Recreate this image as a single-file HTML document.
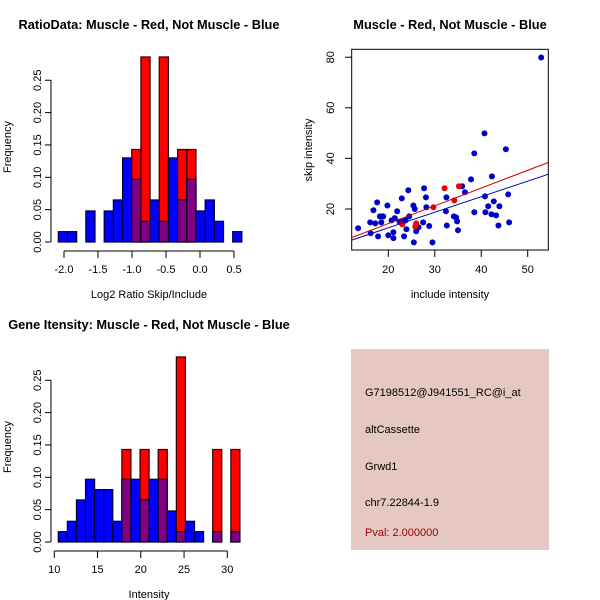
<!DOCTYPE html>
<html><head><meta charset="utf-8"><style>
body{margin:0;background:#fff}
svg{display:block;font-family:"Liberation Sans",sans-serif}
</style></head><body>
<svg id="c" width="600" height="600" viewBox="0 0 600 600">
<rect width="600" height="600" fill="#fff"/>
</svg>
<script>
// Ratio histogram (top-left)
const ratioBlue=[0.016,0.016,0,0.048,0,0.048,0.065,0.13,0.097,0.032,0.065,0.032,0.13,0.065,0.097,0.048,0.065,0.032,0,0.016];
const ratioRed=[0,0,0,0,0,0,0,0,0.143,0.286,0,0.286,0,0.143,0.143,0,0,0,0,0];
const ratioXTicks=[-2.0,-1.5,-1.0,-0.5,0.0,0.5];
const ratioXLabels=["-2.0","-1.5","-1.0","-0.5","0.0","0.5"];
// Intensity histogram (bottom-left)
const intBlue=[0.016,0.032,0.065,0.097,0.081,0.081,0.032,0.097,0.097,0.065,0.097,0.097,0.048,0.016,0.032,0.016,0,0.016,0,0.016];
const intRed=[0,0,0,0,0,0,0,0.143,0,0.143,0,0.143,0,0.286,0,0,0,0.143,0,0.143];
const intXTicks=[10,15,20,25,30];
const freqTicks=[0,0.05,0.10,0.15,0.20,0.25];
const freqLabels=["0.00","0.05","0.10","0.15","0.20","0.25"];
// Scatter (top-right)
const blueX=[13.5,16.1,16.2,16.8,17.2,17.6,17.8,18.2,18.5,18.8,18.9,19.8,20.0,20.7,21.1,21.1,21.4,21.9,22.4,22.9,23.2,23.4,23.7,23.9,24.3,24.5,25.4,25.5,25.7,26.0,26.5,27.5,27.7,28.1,28.2,28.8,29.5,32.4,32.5,32.6,34.1,34.6,34.8,35.0,35.9,36.5,37.8,38.5,38.5,40.7,40.8,40.9,41.5,42.2,42.3,42.7,43.2,43.7,43.9,45.3,45.8,46.0,52.9];
const blueY=[12.4,14.7,10.4,19.5,14.3,22.6,9.2,17.1,14.7,17.1,17.1,21.4,9.6,15.5,10.8,8.5,16.4,19.1,15.0,24.2,15.0,9.2,15.5,12.0,27.4,17.1,21.4,6.8,20.0,11.2,12.8,14.7,28.2,24.6,20.7,13.3,6.8,19.1,24.6,13.5,17.1,16.7,15.1,11.6,29.0,26.6,31.7,18.7,42.0,49.9,25.0,18.7,21.1,17.9,32.9,23.0,17.5,13.5,21.1,43.6,25.8,14.7,79.9];
const redX=[23.0,25.8,26.0,29.7,32.1,34.2,35.2];
const redY=[13.9,13.1,14.3,20.7,28.2,23.4,29.0];
const fitIntercepts=[0.2,0.26]; // red, blue
const fitSlopes=[0.702,0.615];
const scXTicks=[20,30,40,50];
const scYTicks=[20,40,60,80];

const NS="http://www.w3.org/2000/svg";
const svg=document.getElementById('c');
function mk(tag,attrs,parent){const e=document.createElementNS(NS,tag);for(const k in attrs)e.setAttribute(k,attrs[k]);(parent||svg).appendChild(e);return e;}
function txt(s,x,y,attrs,parent){const e=mk('text',Object.assign({x:x,y:y},attrs),parent);e.textContent=s;return e;}

function hist(o){
  const g=mk('g',{});
  
  
  const xs=v=>o.x0+(v-o.v0)*o.kx;
  const ys=f=>o.y0-f*o.ky;
  const n=o.blue.length;
  for(let i=0;i<n;i++){
    const a=o.start+i*o.bw, b=a+o.bw;
    const xa=xs(a), xb=xs(b);
    const r=o.red[i], bl=o.blue[i];
    if(r>0){const e=mk('rect',{x:xa,y:ys(r),width:xb-xa,height:ys(0)-ys(r),fill:'#ff0000',stroke:'#300','stroke-width':1.2},g);
      }
    if(bl>0){
      const e=mk('rect',{x:xa,y:ys(bl),width:xb-xa,height:ys(0)-ys(bl),fill:(r>0?'#800080':'#0000ff'),stroke:'#003','stroke-width':1.2},g);
      }
  }
  const ya=mk('g',{},g);
  mk('line',{x1:o.yax,x2:o.yax,y1:ys(0),y2:ys(0.25),stroke:'#000'},ya);
  freqTicks.forEach((t,i)=>{mk('line',{x1:o.yax-6,x2:o.yax,y1:ys(t),y2:ys(t),stroke:'#000'},ya);
    const l=txt(freqLabels[i],0,0,{'font-size':11,'text-anchor':'middle',transform:`translate(${o.yax-10},${ys(t)}) rotate(-90)`},ya);
    });
  const xa=mk('g',{},g);
  mk('line',{x1:xs(o.ticks[0]),x2:xs(o.ticks[o.ticks.length-1]),y1:o.xay,y2:o.xay,stroke:'#000'},xa);
  o.ticks.forEach((t,i)=>{mk('line',{x1:xs(t),x2:xs(t),y1:o.xay,y2:o.xay+7,stroke:'#000'},xa);
    const l=txt(o.labels[i],xs(t),o.xay+22,{'font-size':11,'text-anchor':'middle'},xa);
    });
}
hist({name:'ratio-histogram',blue:ratioBlue,red:ratioRed,start:-2.084,bw:0.135,v0:-2,x0:64,kx:68,y0:242,ky:647,yax:51,xay:251,ticks:ratioXTicks,labels:ratioXLabels});
hist({name:'intensity-histogram',blue:intBlue,red:intRed,start:10.46,bw:1.05,v0:10,x0:54.3,kx:8.65,y0:542,ky:647,yax:51,xay:551,ticks:intXTicks,labels:intXTicks.map(String)});

let t;
t=txt('RatioData: Muscle - Red, Not Muscle - Blue',149,29,{'font-size':12.8,'font-weight':'bold','text-anchor':'middle'});
t=txt('Muscle - Red, Not Muscle - Blue',450,29,{'font-size':12.8,'font-weight':'bold','text-anchor':'middle'});
t=txt('Gene Itensity: Muscle - Red, Not Muscle - Blue',149,329,{'font-size':12.8,'font-weight':'bold','text-anchor':'middle'});
t=txt('Log2 Ratio Skip/Include',149,298,{'font-size':11,'text-anchor':'middle'});
t=txt('Intensity',149,598,{'font-size':11,'text-anchor':'middle'});
t=txt('Frequency',0,0,{'font-size':11,'text-anchor':'middle',transform:'translate(11,147) rotate(-90)'});
t=txt('Frequency',0,0,{'font-size':11,'text-anchor':'middle',transform:'translate(11,447) rotate(-90)'});

const sg=mk('g',{});
const sx=v=>388.3+(v-20)*4.647;
const sy=v=>209-(v-20)*2.53;
const xmin=12.1,xmax=54.4;
mk('rect',{x:351.7,y:49.3,width:196.6,height:200.7,fill:'none',stroke:'#000'},sg);
const clip=mk('clipPath',{id:'sc'},sg);mk('rect',{x:351.7,y:49.3,width:196.6,height:200.7},clip);
const pg=mk('g',{'clip-path':'url(#sc)'},sg);
for(let i=0;i<blueX.length;i++){const c=mk('circle',{cx:sx(blueX[i]),cy:sy(blueY[i]),r:3,fill:'#0000cc'},pg);}
for(let i=0;i<redX.length;i++){const c=mk('circle',{cx:sx(redX[i]),cy:sy(redY[i]),r:3,fill:'#ee0000'},pg);}
const fitCols=['#cc0000','#0000aa'];
for(let i=0;i<2;i++){const l=mk('line',{x1:sx(xmin),y1:sy(fitIntercepts[i]+fitSlopes[i]*xmin),x2:sx(xmax),y2:sy(fitIntercepts[i]+fitSlopes[i]*xmax),stroke:fitCols[i],'stroke-width':1},pg);
  }
scXTicks.forEach(v=>{mk('line',{x1:sx(v),x2:sx(v),y1:250,y2:257,stroke:'#000'},sg);
  const l=txt(String(v),sx(v),273,{'font-size':11,'text-anchor':'middle'},sg);});
scYTicks.forEach(v=>{mk('line',{x1:345,x2:351.7,y1:sy(v),y2:sy(v),stroke:'#000'},sg);
  const l=txt(String(v),0,0,{'font-size':11,'text-anchor':'middle',transform:`translate(334,${sy(v)}) rotate(-90)`},sg);});
t=txt('include intensity',450,298,{'font-size':11,'text-anchor':'middle'});
t=txt('skip intensity',0,0,{'font-size':11,'text-anchor':'middle',transform:'translate(312,150) rotate(-90)'});

const ib=mk('g',{});
mk('rect',{x:351,y:349,width:198,height:201,fill:'#e6c8c2'},ib);
[['G7198512@J941551_RC@i_at',396,'#000','probe-id'],['altCassette',433,'#000','event-type'],['Grwd1',470,'#000','gene-name'],['chr7.22844-1.9',506,'#000','location'],['Pval: 2.000000',536,'#990000','p-value']].forEach(a=>{
  const l=txt(a[0],365,a[1],{'font-size':11,fill:a[2]},ib);});
</script>
</body></html>
